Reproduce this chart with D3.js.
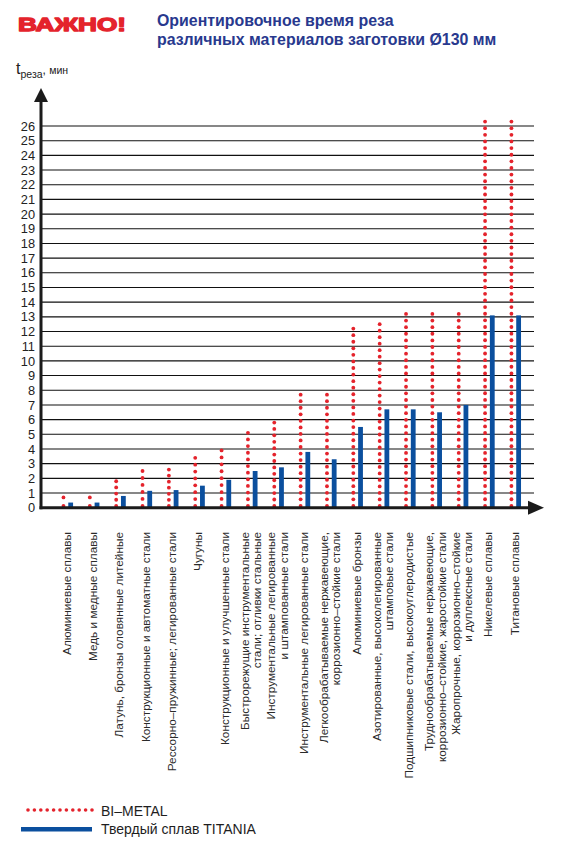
<!DOCTYPE html>
<html>
<head>
<meta charset="utf-8">
<script src="https://cdn.jsdelivr.net/npm/d3@7"></script>
<style>
  html, body { margin: 0; padding: 0; background: #fff; }
  svg { display: block; }
  text { font-family: "Liberation Sans", Arial, Helvetica, sans-serif; }
</style>
</head>
<body>
<svg id="chart" width="562" height="848"></svg>
<script>
// ---------- DATA ----------
const categories = [
  ["Алюминиевые сплавы"],
  ["Медь и медные сплавы"],
  ["Латунь, бронзы оловянные литейные"],
  ["Конструкционные и автоматные стали"],
  ["Рессорно–пружинные; легированные стали"],
  ["Чугуны"],
  ["Конструкционные и улучшенные стали"],
  ["Быстрорежущие инструментальные", "стали; отливки стальные"],
  ["Инструментальные легированные", "и штампованные стали"],
  ["Инструментальные легированные стали"],
  ["Легкообрабатываемые нержавеющие,", "коррозионно–стойкие стали"],
  ["Алюминиевые бронзы"],
  ["Азотированные, высоколегированные", "штамповые стали"],
  ["Подшипниковые стали, высокоуглеродистые"],
  ["Труднообрабатываемые нержавеющие,", "коррозионно–стойкие, жаростойкие стали"],
  ["Жаропрочные, коррозионно–стойкие", "и дуплексные стали"],
  ["Никелевые сплавы"],
  ["Титановые сплавы"]
];
const biMetal = [0.7, 0.7, 1.8, 2.5, 2.6, 3.4, 3.9, 5.1, 5.8, 7.7, 7.7, 12.2, 12.5, 13.2, 13.2, 13.2, 26.3, 26.3];
const titania = [0.35, 0.35, 0.8, 1.15, 1.2, 1.5, 1.9, 2.5, 2.75, 3.8, 3.3, 5.5, 6.7, 6.7, 6.5, 7.0, 13.1, 13.1];
const yTicks = d3.range(0, 27);
const seriesNames = ["BI–METAL", "Твердый сплав TITANIA"];
const titleMain = ["Ориентировочное время реза", "различных материалов заготовки Ø130 мм"];
const titleWarn = "ВАЖНО!";

// ---------- STYLE ----------
const RED = "#e4232c";
const BLUE = "#0b4f9e";
const TITLE_BLUE = "#28398e";
const AXIS = "#1b1b1b";

const svg = d3.select("#chart");

const x = d3.scaleBand()
  .domain(d3.range(categories.length))
  .range([54, 54 + 18 * 26.35])
  .paddingInner(0).paddingOuter(0);
const y = d3.scaleLinear().domain([0, 26]).range([507.7, 126]);

const xLeft = 41;
const gridRight = 534;

// gridlines
svg.append("g").selectAll("line")
  .data(yTicks.filter(d => d > 0))
  .join("line")
  .attr("x1", xLeft).attr("x2", gridRight)
  .attr("y1", d => y(d)).attr("y2", d => y(d))
  .attr("stroke", "#111").attr("stroke-width", 1.1);

// y axis tick labels via d3 axis
const yAxis = d3.axisLeft(y).tickValues(yTicks).tickSize(0).tickPadding(6).tickFormat(d3.format("d"));
const gy = svg.append("g").attr("transform", `translate(${xLeft},0)`).call(yAxis);
gy.select(".domain").remove();
gy.selectAll("text")
  .attr("font-family", "'Liberation Sans', Arial, sans-serif")
  .attr("font-size", 12.8)
  .attr("fill", "#222");

// BI-METAL dotted columns
const dotStep = 6.6;
const gRed = svg.append("g");
biMetal.forEach((v, i) => {
  const cx = x(i) + x.bandwidth() / 2 - 3.7;
  const yTop = y(v);
  const yBot = y(0) - 1.8;
  const len = yBot - yTop;
  const n = Math.max(1, Math.round(len / dotStep));
  const pts = d3.range(n + 1).map(k => yTop + k * len / n);
  gRed.selectAll(null).data(pts).join("circle")
    .attr("cx", cx).attr("cy", d => d).attr("r", 1.9)
    .attr("fill", RED);
});

// TITANIA bars
const barW = 4.8;
svg.append("g").selectAll("rect")
  .data(titania)
  .join("rect")
  .attr("x", (d, i) => x(i) + x.bandwidth() / 2 + 3.5 - barW / 2)
  .attr("y", d => y(d))
  .attr("width", barW)
  .attr("height", d => y(0) - y(d))
  .attr("fill", BLUE);

// axes lines with arrows
svg.append("line")
  .attr("x1", xLeft).attr("x2", xLeft)
  .attr("y1", y(0) + 1.5).attr("y2", 100)
  .attr("stroke", AXIS).attr("stroke-width", 3);
svg.append("path")
  .attr("d", `M${xLeft},88 L${xLeft + 7},102 L${xLeft - 7},102 Z`)
  .attr("fill", AXIS);
svg.append("line")
  .attr("x1", xLeft - 1.5).attr("x2", 530)
  .attr("y1", y(0)).attr("y2", y(0))
  .attr("stroke", AXIS).attr("stroke-width", 3);
svg.append("path")
  .attr("d", `M544,${y(0)} L528,${y(0) - 7} L528,${y(0) + 7} Z`)
  .attr("fill", AXIS);

// category labels (rotated)
const labelTop = 532;
const lineGap = 12.5;
const gLab = svg.append("g");
categories.forEach((lines, i) => {
  const cx = x(i) + x.bandwidth() / 2 - 0.5;
  const n = lines.length;
  lines.forEach((t, k) => {
    const lx = cx + (k - (n - 1) / 2) * lineGap;
    gLab.append("text")
      .attr("transform", `translate(${lx + 4},${labelTop}) rotate(-90)`)
      .attr("text-anchor", "end")
      .attr("font-size", 11.8)
      .attr("fill", "#2a2a2a")
      .text(t);
  });
});

// y axis title
const yt = svg.append("text").attr("x", 16).attr("y", 74).attr("fill", "#222");
yt.append("tspan").attr("font-size", 16).text("t");
yt.append("tspan").attr("font-size", 10.5).attr("dy", 4).text("реза");
yt.append("tspan").attr("font-size", 12).attr("dy", -4).text(", ");
yt.append("tspan").attr("font-size", 10.5).text("мин");

// Titles
svg.append("text")
  .attr("x", 18).attr("y", 30.5)
  .attr("font-family", "'Liberation Sans', Arial, sans-serif")
  .attr("font-weight", "bold")
  .attr("font-size", 18.5)
  .attr("textLength", 108).attr("lengthAdjust", "spacingAndGlyphs")
  .attr("fill", RED).attr("stroke", RED).attr("stroke-width", 1.3)
  .attr("stroke-linejoin", "round")
  .text(titleWarn);

svg.append("g").selectAll("text")
  .data(titleMain)
  .join("text")
  .attr("x", 157)
  .attr("y", (d, i) => 26 + i * 19)
  .attr("font-weight", "bold")
  .attr("font-size", 15.9)
  .attr("fill", TITLE_BLUE)
  .text(d => d);

// Legend
const lg = svg.append("g");
lg.selectAll("circle").data(d3.range(11)).join("circle")
  .attr("cx", d => 28 + d * 6.4).attr("cy", 810).attr("r", 1.8).attr("fill", RED);
lg.append("rect").attr("x", 21).attr("y", 827).attr("width", 71).attr("height", 4.5).attr("fill", BLUE);
lg.selectAll("text").data(seriesNames).join("text")
  .attr("x", 101).attr("y", (d, i) => 816 + i * 18)
  .attr("font-size", 14)
  .attr("fill", "#1e1e1e")
  .text(d => d);
</script>
</body>
</html>
